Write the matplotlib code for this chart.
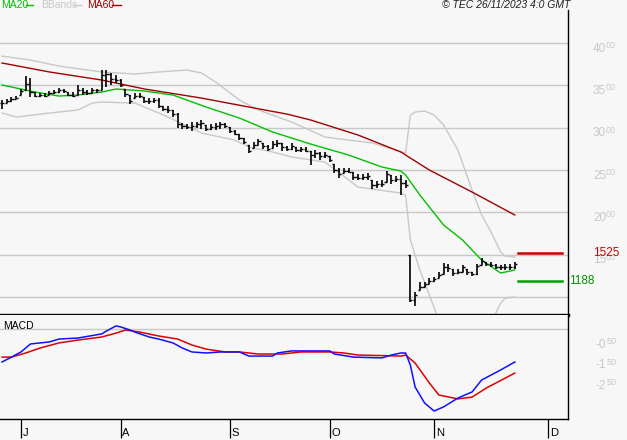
import matplotlib.pyplot as plt
import matplotlib.transforms as mtransforms
import numpy as np

plt.rcParams['font.family'] = ['Liberation Sans', 'DejaVu Sans']

# daily bars (EUR), one per trading day from late June to 24 Nov 2023
highs = [33.27, 33.39, 33.62, 33.74, 34.57, 36.10, 35.87, 34.21, 34.10, 34.10,
         34.33, 34.45, 34.69, 34.57, 34.21, 34.21, 35.04, 34.69, 34.45, 34.69,
         34.57, 36.81, 36.81, 36.46, 36.22, 35.75, 34.57, 33.86, 34.10, 34.10,
         33.62, 33.50, 33.50, 33.50, 32.56, 32.56, 32.09, 31.73, 30.55, 30.43,
         30.67, 30.67, 30.91, 30.32, 30.43, 30.55, 30.67, 30.55, 30.08, 29.73,
         29.25, 28.78, 27.95, 28.31, 28.66, 28.19, 27.95, 28.43, 28.54, 28.19,
         27.84, 28.19, 27.72, 27.72, 27.72, 27.25, 27.36, 27.13, 27.13, 26.65,
         25.71, 25.24, 25.24, 25.24, 24.76, 24.53, 24.53, 24.65, 23.82, 23.70,
         23.82, 24.88, 24.41, 24.29, 24.41, 23.82, 14.96, 10.59, 11.77, 11.77,
         12.25, 12.36, 12.96, 14.02, 13.90, 13.31, 13.31, 13.78, 13.31, 12.96,
         13.90, 14.61, 14.14, 14.14, 13.90, 13.78, 13.90, 13.90, 14.14]
lows = [32.21, 32.91, 33.03, 33.39, 33.86, 34.45, 33.62, 33.62, 33.62, 33.62,
        33.86, 33.98, 34.10, 34.10, 33.74, 33.62, 33.86, 33.86, 33.86, 34.10,
        34.10, 34.45, 34.80, 35.04, 35.28, 34.80, 33.62, 32.80, 33.50, 33.50,
        32.91, 32.80, 32.91, 32.32, 31.97, 31.73, 31.26, 29.96, 29.84, 29.84,
        29.61, 29.96, 29.84, 29.61, 29.73, 29.73, 29.84, 29.96, 29.37, 29.13,
        28.54, 28.07, 27.01, 27.60, 27.95, 27.48, 27.25, 27.60, 27.72, 27.25,
        27.25, 27.36, 27.13, 27.13, 27.13, 25.59, 26.42, 26.18, 26.42, 25.95,
        24.65, 24.06, 24.65, 24.65, 23.82, 23.82, 23.82, 23.82, 22.76, 22.88,
        22.99, 23.58, 23.35, 23.58, 22.05, 22.88, 9.41, 8.94, 10.83, 11.18,
        11.54, 11.77, 12.25, 12.72, 12.96, 12.48, 12.72, 12.96, 12.60, 12.48,
        12.60, 13.78, 13.66, 13.55, 13.31, 13.19, 13.19, 13.19, 13.31]
closes = [32.9, 33.2, 33.4, 33.5, 34.3, 35.2, 34.2, 33.8, 33.9, 33.8,
          34.1, 34.2, 34.4, 34.3, 33.9, 33.8, 34.5, 34.2, 34.1, 34.4,
          34.4, 36.2, 36.4, 35.8, 35.6, 35.0, 34.0, 33.1, 33.8, 33.7,
          33.2, 33.1, 33.3, 32.6, 32.2, 32.1, 31.6, 30.4, 30.2, 30.1,
          30.2, 30.4, 30.5, 29.9, 30.1, 30.2, 30.4, 30.2, 29.6, 29.3,
          28.8, 28.3, 27.3, 28.0, 28.4, 27.8, 27.5, 28.1, 28.2, 27.7,
          27.5, 27.8, 27.4, 27.5, 27.3, 26.8, 27.0, 26.6, 26.8, 26.2,
          25.0, 24.5, 24.9, 24.8, 24.2, 24.1, 24.2, 24.3, 23.2, 23.3,
          23.4, 24.5, 23.8, 24.0, 23.5, 23.2, 9.6, 10.3, 11.2, 11.5,
          11.9, 12.1, 12.6, 13.6, 13.4, 12.8, 13.0, 13.5, 13.0, 12.7,
          13.7, 14.2, 13.9, 13.8, 13.6, 13.5, 13.6, 13.5, 13.9]

# indicator lines (day index, value)
ma20_x = [0, 4, 7, 12, 16, 21, 24, 30, 36, 43, 50, 57, 65, 73, 80, 84, 85, 88,
          90, 93, 97, 101, 105, 108]
ma20 = [35.04, 34.57, 34.21, 33.74, 33.86, 34.21, 34.57, 34.33, 33.86, 32.44,
        31.14, 29.49, 28.07, 26.77, 25.36, 24.88, 24.41, 22.05, 20.63, 18.51,
        16.73, 14.37, 12.84, 13.19]
ma60_x = [0, 10, 21, 30, 42, 52, 60, 65, 75, 84, 90, 99, 108]
ma60 = [37.64, 36.58, 35.63, 34.57, 33.50, 32.44, 31.61, 30.91, 29.13, 27.13,
        25.00, 22.40, 19.69]
bb_up_x = [0, 6, 12, 21, 28, 33, 39, 42, 45, 50, 54, 61, 68, 78, 85, 86, 87,
           89, 91, 93, 96, 99, 101, 103, 104, 105, 106, 108]
bb_up = [38.46, 37.99, 37.28, 36.58, 36.34, 36.58, 36.81, 36.46, 35.39, 33.27,
         32.09, 30.67, 28.90, 28.19, 27.01, 31.50, 31.85, 31.97, 31.50, 30.32,
         27.36, 22.64, 19.69, 17.68, 16.50, 15.32, 14.84, 14.73]
bb_lo_x = [0, 3, 10, 16, 19, 21, 28, 30, 35, 42, 49, 52, 57, 61, 68, 75, 84,
           85, 86, 88, 90, 92, 96, 100, 104, 105, 106, 108]
bb_lo = [31.73, 31.26, 31.73, 32.09, 32.91, 33.03, 32.91, 32.44, 31.26, 29.37,
         28.54, 27.72, 27.13, 26.54, 25.95, 22.99, 22.28, 22.05, 16.73, 13.19,
         10.24, 7.29, 4.33, 4.92, 8.11, 9.29, 9.88, 10.00]

macd_x = [0, 2, 4, 6, 8, 10, 12, 16, 21, 22, 24, 25, 27, 28, 31, 33, 36, 38,
          40, 43, 46, 50, 52, 57, 58, 61, 69, 70, 74, 80, 82, 84, 85, 86, 87,
          89, 91, 93, 96, 99, 101, 105, 108]
macd = [-1.61, -1.37, -1.12, -0.73, -0.68, -0.63, -0.49, -0.44, -0.24, -0.10,
        0.15, 0.10, -0.05, -0.15, -0.39, -0.49, -0.68, -0.93, -1.12, -1.17,
        -1.12, -1.12, -1.32, -1.32, -1.17, -1.07, -1.07, -1.22, -1.37, -1.41,
        -1.27, -1.17, -1.17, -1.76, -2.83, -3.61, -4.00, -3.80, -3.37, -3.07,
        -2.49, -2.00, -1.61]
signal_x = [0, 2, 5, 8, 12, 16, 21, 24, 26, 29, 33, 37, 40, 43, 47, 50, 54, 59,
            63, 69, 72, 75, 84, 85, 87, 90, 92, 96, 99, 102, 108]
signal = [-1.37, -1.37, -1.17, -0.93, -0.68, -0.54, -0.39, -0.20, -0.05, -0.15,
          -0.34, -0.49, -0.78, -0.98, -1.12, -1.12, -1.22, -1.22, -1.12, -1.12,
          -1.17, -1.27, -1.32, -1.27, -1.66, -2.63, -3.22, -3.41, -3.32, -2.88,
          -2.15]

price_levels = [40, 35, 30, 25, 20, 15]
macd_levels = [-0.5, -1.5, -2.5]
month_pos = [4, 25, 48, 69, 91, 115]
month_lab = ['J', 'A', 'S', 'O', 'N', 'D']
res_level = 15.25
sup_level = 11.88

bg = '#f7f7f7'
grid_c = '#c8c8c8'

fig = plt.figure(figsize=(6.27, 4.40), dpi=100, facecolor=bg)
ax1 = fig.add_axes([0, 1 - 315 / 440, 568 / 627, 305 / 440], facecolor=bg)
ax2 = fig.add_axes([0, 1 - 419 / 440, 568 / 627, 104 / 440], facecolor=bg)

xlim = (-0.42, 119.2)
for ax in (ax1, ax2):
    ax.set_xlim(*xlim)
    ax.set_yticks([])
    for s in ('left', 'top'):
        ax.spines[s].set_visible(False)
    ax.spines['right'].set_color('black')
    ax.spines['right'].set_linewidth(1)

ax1.set_ylim(7.88, 43.90)
ax1.set_xticks([])
ax1.spines['bottom'].set_linewidth(2.4)
ax1.spines['bottom'].set_color('black')
ax2.set_ylim(-4.39, 0.683)
ax2.spines['bottom'].set_linewidth(1)

# price panel
for lv in price_levels + [10]:
    ax1.axhline(lv, color=grid_c, lw=1, zorder=1)

days = np.arange(len(closes))
opens = np.clip([closes[0]] + closes[:-1], lows, highs)
ax1.plot(bb_up_x, bb_up, color=grid_c, lw=1, zorder=2)
ax1.plot(bb_lo_x, bb_lo, color=grid_c, lw=1, zorder=2)
ax1.plot(ma60_x, ma60, color='#a00000', lw=1, zorder=3)
ax1.plot(ma20_x, ma20, color='#00c000', lw=1, zorder=3)
ax1.vlines(days, lows, highs, color='black', lw=1.2, zorder=4)
ax1.hlines(closes, days, days + 0.45, color='black', lw=1, zorder=4)
ax1.hlines(opens, days - 0.45, days, color='black', lw=1, zorder=4)

ax1.axhline(res_level, xmin=0.912, xmax=0.99, color='#cc0000', lw=1.8, zorder=5)
ax1.axhline(sup_level, xmin=0.912, xmax=0.99, color='#00a000', lw=1.8, zorder=5)

tr1 = ax1.get_yaxis_transform()
for lv in price_levels:
    off = mtransforms.offset_copy(tr1, fig=fig, x=25, y=-5.5, units='dots')
    ax1.text(1, lv, '%d' % lv, transform=off, color=grid_c, fontsize=8.5,
             ha='left', va='center', clip_on=False)
    off2 = mtransforms.offset_copy(tr1, fig=fig, x=38, y=-2.5, units='dots')
    ax1.text(1, lv, '00', transform=off2, color=grid_c, fontsize=6.5,
             ha='left', va='center', clip_on=False)

off = mtransforms.offset_copy(tr1, fig=fig, x=25, y=0, units='dots')
ax1.text(1, res_level, '1525', transform=off, color='#cc0000', fontsize=8.5,
         ha='left', va='center', clip_on=False)
off = mtransforms.offset_copy(tr1, fig=fig, x=1, y=0, units='dots')
ax1.text(1, sup_level, '1188', transform=off, color='#009000', fontsize=8.5,
         ha='left', va='center', clip_on=False)

# MACD panel
ax2.axhline(0, color=grid_c, lw=1, zorder=1)
ax2.plot(signal_x, signal, color='#e00000', lw=1.1, zorder=3)
ax2.plot(macd_x, macd, color='#1010ff', lw=1.1, zorder=3)
ax2.text(0.005, 0.89, 'MACD', transform=ax2.transAxes, fontsize=7.5,
         ha='left', va='center')

tr2 = ax2.get_yaxis_transform()
for lv in macd_levels:
    big = '-%d' % int(abs(lv))
    off = mtransforms.offset_copy(tr2, fig=fig, x=28, y=-5.5, units='dots')
    ax2.text(1, lv, big, transform=off, color=grid_c, fontsize=8.5,
             ha='left', va='center', clip_on=False)
    off2 = mtransforms.offset_copy(tr2, fig=fig, x=39, y=-2.5, units='dots')
    ax2.text(1, lv, '50', transform=off2, color=grid_c, fontsize=6.5,
             ha='left', va='center', clip_on=False)

ax2.set_xticks(month_pos)
ax2.set_xticklabels([''] * len(month_pos))
ax2.tick_params(axis='x', direction='out', length=13.5, width=0.9, color='black')
trx = ax2.get_xaxis_transform()
for p, lab in zip(month_pos, month_lab):
    ax2.text(p + 0.35, -0.18, lab, transform=trx, fontsize=8, ha='left',
             va='bottom', clip_on=False)

# header
fig.text(1 / 627, 1 - 5 / 440, 'MA20', color='#00c000', fontsize=7.5, va='center')
fig.lines.append(plt.Line2D([26 / 627, 33 / 627], [1 - 5 / 440] * 2,
                            transform=fig.transFigure, color='#00c000', lw=1))
fig.text(41 / 627, 1 - 5 / 440, 'BBands', color=grid_c, fontsize=7.5, va='center')
fig.lines.append(plt.Line2D([73 / 627, 81 / 627], [1 - 5 / 440] * 2,
                            transform=fig.transFigure, color=grid_c, lw=1))
fig.text(87 / 627, 1 - 5 / 440, 'MA60', color='#a00000', fontsize=7.5, va='center')
fig.lines.append(plt.Line2D([112 / 627, 121 / 627], [1 - 5 / 440] * 2,
                            transform=fig.transFigure, color='#a00000', lw=1))
fig.text(442 / 627, 1 - 5 / 440, '\u00a9 TEC 26/11/2023 4:0 GMT', fontsize=7.5,
         style='italic', va='center', color='#202020')

fig.savefig('out.png', dpi=100, facecolor=bg)
